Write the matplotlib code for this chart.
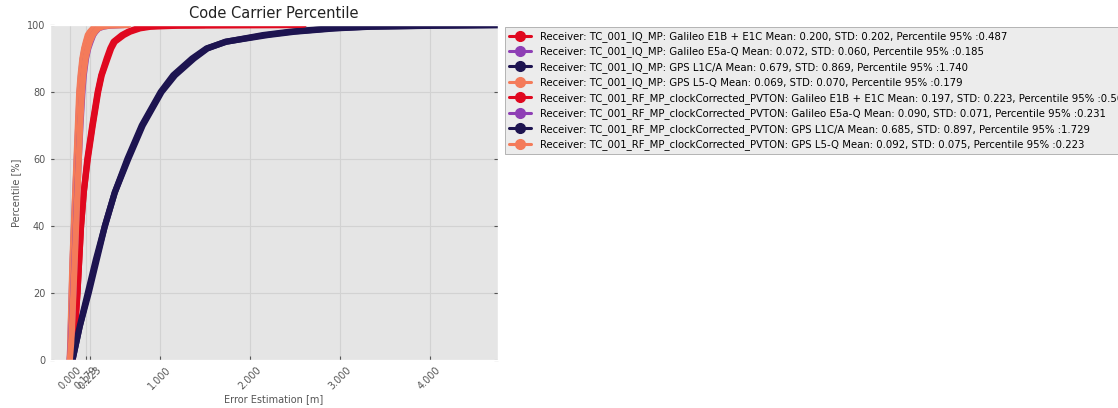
import numpy as np
import matplotlib
matplotlib.use('Agg')
from matplotlib import pyplot as plt

plt.style.use('ggplot')

# percentiles read at each point of the CDF
pct = [0, 5, 10, 20, 30, 40, 50, 60, 70, 80, 85, 90, 93, 95, 97, 98, 99, 99.5, 99.8, 100]

# error values [m]
iq_e1 = [0.03, 0.045, 0.06, 0.085, 0.105, 0.125, 0.155, 0.195, 0.25, 0.31, 0.35, 0.41, 0.45, 0.487, 0.58, 0.65, 0.75, 0.85, 1.0, 1.5]
iq_e5 = [0.0, 0.006, 0.012, 0.022, 0.033, 0.047, 0.062, 0.078, 0.094, 0.11, 0.125, 0.145, 0.165, 0.185, 0.21, 0.235, 0.27, 0.31, 0.36, 0.45]
iq_l1 = [0.03, 0.07, 0.11, 0.21, 0.30, 0.39, 0.50, 0.64, 0.80, 1.01, 1.15, 1.36, 1.52, 1.74, 2.15, 2.45, 2.9, 3.3, 4.0, 4.8]
iq_l5 = [0.0, 0.005, 0.01, 0.02, 0.03, 0.045, 0.06, 0.075, 0.09, 0.105, 0.12, 0.14, 0.16, 0.179, 0.2, 0.225, 0.26, 0.3, 0.35, 0.45]
rf_e1 = [0.03, 0.045, 0.06, 0.085, 0.105, 0.125, 0.155, 0.2, 0.255, 0.315, 0.355, 0.42, 0.46, 0.50, 0.6, 0.67, 0.78, 0.9, 1.2, 2.6]
rf_e5 = [0.0, 0.012, 0.022, 0.038, 0.053, 0.068, 0.083, 0.1, 0.118, 0.14, 0.155, 0.18, 0.205, 0.231, 0.26, 0.285, 0.32, 0.37, 0.44, 0.6]
rf_l1 = [0.03, 0.07, 0.11, 0.20, 0.29, 0.39, 0.50, 0.65, 0.81, 1.02, 1.17, 1.38, 1.53, 1.73, 2.2, 2.5, 2.95, 3.35, 4.1, 4.9]
rf_l5 = [0.0, 0.015, 0.025, 0.04, 0.055, 0.07, 0.085, 0.1, 0.115, 0.135, 0.15, 0.175, 0.2, 0.223, 0.255, 0.28, 0.315, 0.36, 0.43, 0.65]

labels = [
    'Receiver: TC_001_IQ_MP: Galileo E1B + E1C Mean: 0.200, STD: 0.202, Percentile 95% :0.487',
    'Receiver: TC_001_IQ_MP: Galileo E5a-Q Mean: 0.072, STD: 0.060, Percentile 95% :0.185',
    'Receiver: TC_001_IQ_MP: GPS L1C/A Mean: 0.679, STD: 0.869, Percentile 95% :1.740',
    'Receiver: TC_001_IQ_MP: GPS L5-Q Mean: 0.069, STD: 0.070, Percentile 95% :0.179',
    'Receiver: TC_001_RF_MP_clockCorrected_PVTON: Galileo E1B + E1C Mean: 0.197, STD: 0.223, Percentile 95% :0.501',
    'Receiver: TC_001_RF_MP_clockCorrected_PVTON: Galileo E5a-Q Mean: 0.090, STD: 0.071, Percentile 95% :0.231',
    'Receiver: TC_001_RF_MP_clockCorrected_PVTON: GPS L1C/A Mean: 0.685, STD: 0.897, Percentile 95% :1.729',
    'Receiver: TC_001_RF_MP_clockCorrected_PVTON: GPS L5-Q Mean: 0.092, STD: 0.075, Percentile 95% :0.223',
]
series = [iq_e1, iq_e5, iq_l1, iq_l5, rf_e1, rf_e5, rf_l1, rf_l5]
colores = ['#e0081f', '#8e3fb5', '#1d1450', '#f47b5a'] * 2

xticks = [0.0, 0.179, 0.223, 1.0, 2.0, 3.0, 4.0]

fig = plt.figure(figsize=(11.18, 4.08), dpi=100)
ax = fig.add_axes([50/1118, 48/408, 448/1118, 335/408])
ax.set_facecolor('#e5e5e5')

for xs, lab, c in zip(series, labels, colores):
    ax.plot(xs, pct, color=c, lw=4.5, solid_joinstyle='round', solid_capstyle='round', label=lab)

ax.set_xlim(-0.22, 4.76)
ax.set_ylim(0, 100)
ax.set_xticks(xticks)
ax.set_xticklabels(['%.3f' % v for v in xticks], rotation=45, fontsize=7)
ax.set_yticks([0, 20, 40, 60, 80, 100])
ax.tick_params(axis='y', labelsize=7)
ax.tick_params(direction='in', length=3, color='#555555', right=True, top=False,
               labelcolor='#555555')
ax.grid(True, color='#d2d2d2', lw=0.8)
ax.set_xlabel('Error Estimation [m]', fontsize=7, color='#555555', labelpad=2)
ax.set_ylabel('Percentile [%]', fontsize=7, color='#555555')
ax.set_title('Code Carrier Percentile', fontsize=10.5, color='#222222', pad=5)

leg = ax.legend(loc='upper left', bbox_to_anchor=(1.0156, 0.994), borderaxespad=0,
                fontsize=7.25, labelspacing=0.45, handlelength=2.2, handletextpad=0.9,
                fancybox=False, facecolor='#ececec', edgecolor='#9a9a9a', framealpha=1)
for ln in leg.get_lines():
    ln.set_linewidth(2.2)
    ln.set_marker('o')
    ln.set_markersize(7)

plt.savefig('out.png', dpi=100)
